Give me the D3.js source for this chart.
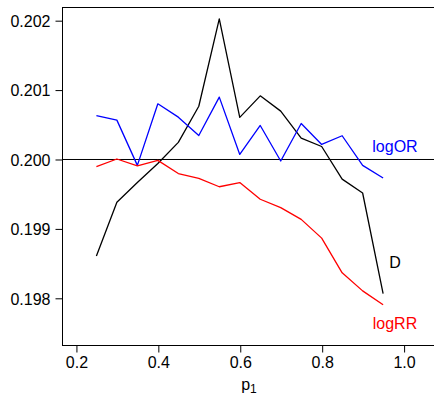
<!DOCTYPE html>
<html>
<head>
<meta charset="utf-8">
<script src="https://cdn.jsdelivr.net/npm/d3@7"></script>
<style>
  html, body { margin: 0; padding: 0; background: #fff; }
  svg { display: block; font-family: 'Liberation Sans', Arial, sans-serif; }
</style>
</head>
<body>
<svg id="chart" width="434" height="398"></svg>
<script>
// p1 grid
const p1 = [0.25, 0.30, 0.35, 0.40, 0.45, 0.50, 0.55, 0.60, 0.65, 0.70, 0.75, 0.80, 0.85, 0.90, 0.95];

// series values
const logOR = [0.200626, 0.200560, 0.199908, 0.200795, 0.200603, 0.200339, 0.200891, 0.200066,
               0.200483, 0.199971, 0.200511, 0.200210, 0.200335, 0.199908, 0.199727];
const D = [0.198601, 0.199376, 0.199660, 0.199935, 0.200240, 0.200760, 0.202020, 0.200600,
           0.200910, 0.200690, 0.200300, 0.200180, 0.199710, 0.199510, 0.198060];
const logRR = [0.199890, 0.200000, 0.199900, 0.199980, 0.199790, 0.199720, 0.199600, 0.199660,
               0.199420, 0.199300, 0.199130, 0.198860, 0.198360, 0.198100, 0.197900];

const xTicks = [0.2, 0.4, 0.6, 0.8, 1.0];
const yTicks = [0.198, 0.199, 0.200, 0.201, 0.202];

// series labels (data coordinates, like text() in R)
const labels = [
  { text: 'logOR', x: 0.979, y: 0.20018, color: '#0000ff' },
  { text: 'D', x: 0.979, y: 0.19851, color: '#000000' },
  { text: 'logRR', x: 0.979, y: 0.19763, color: '#ff0000' }
];

const svg = d3.select('#chart');
const plot = { left: 62, right: 438, top: 7, bottom: 345 };

// xlim c(0.2, 1.05) with 4% padding, ylim c(0.1975, 0.2020) with 4% padding
const x = d3.scaleLinear().domain([0.166, 1.084]).range([plot.left, plot.right]);
const y = d3.scaleLinear().domain([0.19732, 0.20219]).range([plot.bottom, plot.top]);

// plot box
svg.append('rect')
    .attr('x', plot.left + 0.5).attr('y', plot.top + 0.5)
    .attr('width', plot.right - plot.left).attr('height', plot.bottom - plot.top)
    .attr('fill', 'none').attr('stroke', '#000').attr('stroke-width', 1);

// axes
const xAxis = svg.append('g')
    .attr('transform', `translate(0.5,${plot.bottom + 0.5})`)
    .call(d3.axisBottom(x).tickValues(xTicks).tickSize(7).tickPadding(4).tickFormat(d3.format('.1f')));
const yAxis = svg.append('g')
    .attr('transform', `translate(${plot.left + 0.5},0.5)`)
    .call(d3.axisLeft(y).tickValues(yTicks).tickSize(7).tickPadding(5).tickFormat(d3.format('.3f')));

[xAxis, yAxis].forEach(g => {
    g.select('.domain').remove();
    g.selectAll('line').attr('stroke', '#000');
    g.selectAll('text')
        .attr('fill', '#000')
        .style('font-size', '16px')
        .style('font-family', "'Liberation Sans', Arial, sans-serif");
});
yAxis.selectAll('text').attr('dy', '0.36em');
xAxis.selectAll('text').attr('dy', '0.72em');

// reference line at 0.2
svg.append('line')
    .attr('x1', plot.left).attr('x2', plot.right)
    .attr('y1', y(0.2) + 0.5).attr('y2', y(0.2) + 0.5)
    .attr('stroke', '#000').attr('stroke-width', 1);

const line = d3.line()
    .x((d, i) => x(p1[i]))
    .y(d => y(d));

const series = [
  { values: D, color: '#000000' },
  { values: logOR, color: '#0000ff' },
  { values: logRR, color: '#ff0000' }
];

series.forEach(s => {
    svg.append('path')
        .datum(s.values)
        .attr('d', line)
        .attr('fill', 'none')
        .attr('stroke', s.color)
        .attr('stroke-width', 1.3)
        .attr('stroke-linejoin', 'round');
});

labels.forEach(l => {
    svg.append('text')
        .attr('x', x(l.x))
        .attr('y', y(l.y))
        .attr('dy', '0.36em')
        .attr('text-anchor', 'middle')
        .attr('fill', l.color)
        .style('font-size', '16px')
        .text(l.text);
});

// x axis title: p with subscript 1
const xt = svg.append('text')
    .attr('x', 249)
    .attr('y', 390)
    .attr('text-anchor', 'middle')
    .attr('fill', '#000')
    .style('font-size', '16px');
xt.append('tspan').text('p');
xt.append('tspan').attr('dy', 3).style('font-size', '12px').text('1');
</script>
</body>
</html>
